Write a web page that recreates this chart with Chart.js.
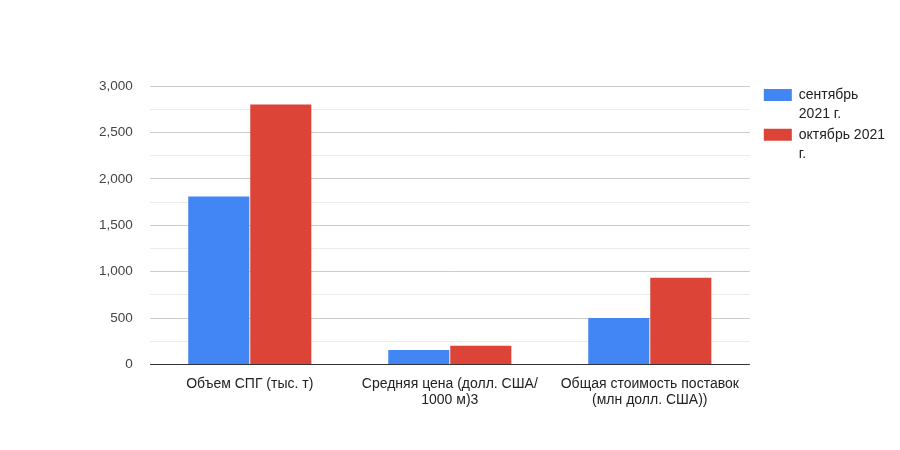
<!DOCTYPE html>
<html>
<head>
<meta charset="utf-8">
<script src="https://cdn.jsdelivr.net/npm/chart.js@4.4.0/dist/chart.umd.min.js"></script>
<style>
  html, body { margin: 0; padding: 0; background: #fff; }
  #wrap { width: 900px; height: 450px; }
</style>
</head>
<body>
<div id="wrap"><canvas id="myChart"></canvas></div>
<script>
const categories = [
  ['Объем СПГ (тыс. т)'],
  ['Средняя цена (долл. США/', '1000 м)3'],
  ['Общая стоимость поставок', '(млн долл. США))']
];
const seriesNames = [['сентябрь', '2021 г.'], ['октябрь 2021', 'г.']];
const september = [1810, 155, 500];
const october = [2800, 200, 935];

const fontFamily = 'Liberation Sans, Arial, sans-serif';

const ctx = document.getElementById('myChart').getContext('2d');
new Chart(ctx, {
  type: 'bar',
  data: {
    labels: categories,
    datasets: [{
      label: seriesNames[0],
      data: september,
      backgroundColor: '#4285F4',
      borderWidth: 0
    }, {
      label: seriesNames[1],
      data: october,
      backgroundColor: '#DB4437',
      borderWidth: 0
    }]
  },
  options: {
    responsive: true,
    maintainAspectRatio: false,
    animation: false,
    datasets: {
      bar: { categoryPercentage: 0.62, barPercentage: 0.985 }
    },
    layout: { padding: { left: 82, top: 86, right: 5, bottom: 38 } },
    plugins: {
      tooltip: { enabled: false },
      legend: {
        position: 'right',
        align: 'start',
        labels: {
          boxWidth: 28,
          boxHeight: 12,
          color: '#222',
          font: { family: fontFamily, size: 14, lineHeight: 1.35 },
          padding: 2
        }
      }
    },
    scales: {
      x: {
        grid: { display: false },
        border: { display: false },
        ticks: {
          color: '#222',
          font: { family: fontFamily, size: 14 },
          maxRotation: 0,
          padding: 3
        }
      },
      y: {
        min: 0,
        max: 3000,
        border: { display: false },
        grid: {
          drawTicks: false,
          color: c => c.tick.value === 0 ? '#333' : (c.tick.value % 500 === 0 ? '#cccccc' : '#ebebeb')
        },
        ticks: {
          stepSize: 250,
          padding: 17,
          color: '#444',
          font: { family: fontFamily, size: 13.5 },
          callback: v => v % 500 === 0 ? v.toLocaleString('en-US') : ''
        }
      },
      // empty spacer between plot and legend
      gap: {
        type: 'linear',
        position: 'right',
        grid: { display: false },
        border: { display: false },
        ticks: { display: false },
        afterFit: s => { s.width = 12; }
      }
    }
  }
});
</script>
</body>
</html>
